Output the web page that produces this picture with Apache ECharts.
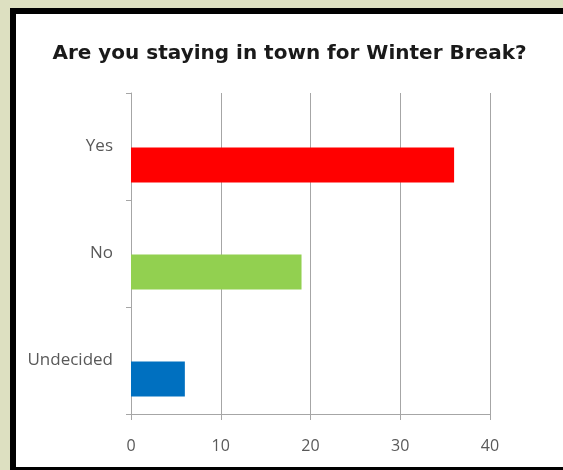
<!DOCTYPE html>
<html>
<head>
<meta charset="utf-8">
<script src="https://cdn.jsdelivr.net/npm/echarts@6/dist/echarts.min.js"></script>
<style>
html,body{margin:0;padding:0;background:#dde0c1;width:563px;height:470px;overflow:hidden;}
#frame{position:absolute;left:10px;top:8px;width:553px;height:462px;background:#000;}
#chart{position:absolute;left:16px;top:14px;width:547px;height:453px;background:#fff;}
</style>
</head>
<body>
<div id="frame"></div>
<div id="chart"></div>
<script>
var title = 'Are you staying in town for Winter Break?';
var categories = ['Yes', 'No', 'Undecided'];
var values = [36, 19, 6];
var colors = ['#ff0000', '#92d050', '#0070c0'];
var xTicks = [0, 10, 20, 30, 40];

var chart = echarts.init(document.getElementById('chart'), null, {width: 547, height: 453});
var font = '"Open Sans", "Liberation Sans", sans-serif';
chart.setOption({
  animation: false,
  backgroundColor: '#ffffff',
  title: {
    text: title, left: 'center', top: 25,
    textStyle: {fontFamily: '"DejaVu Sans", sans-serif', fontSize: 20, fontWeight: 'bold', color: '#1a1a1a'}
  },
  grid: {left: 115, right: 73, top: 79, bottom: 53, containLabel: false},
  xAxis: {
    type: 'value', min: xTicks[0], max: xTicks[xTicks.length - 1], interval: 10,
    axisLine: {show: true, lineStyle: {color: '#a6a6a6', width: 1}},
    axisTick: {show: true, length: 6, lineStyle: {color: '#a6a6a6'}},
    axisLabel: {margin: 24, color: '#595959', fontFamily: font, fontSize: 16},
    splitLine: {show: true, lineStyle: {color: '#a6a6a6', width: 1}}
  },
  yAxis: {
    type: 'category', data: categories, inverse: true,
    axisLine: {show: true, lineStyle: {color: '#a6a6a6', width: 1}},
    axisTick: {show: true, length: 5, inside: false, lineStyle: {color: '#a6a6a6'}},
    axisLabel: {margin: 18, color: '#595959', fontFamily: font, fontSize: 17},
    splitLine: {show: false}
  },
  series: [
    {type: 'bar', name: 'spacer', data: [], barWidth: 35, barGap: '6%', silent: true},
    {type: 'bar', name: 'Responses', data: values.map(function (v, i) {
        return {value: v, itemStyle: {color: colors[i]}};
      }), barWidth: 35, barGap: '6%'}
  ]
});
</script>
</body>
</html>
